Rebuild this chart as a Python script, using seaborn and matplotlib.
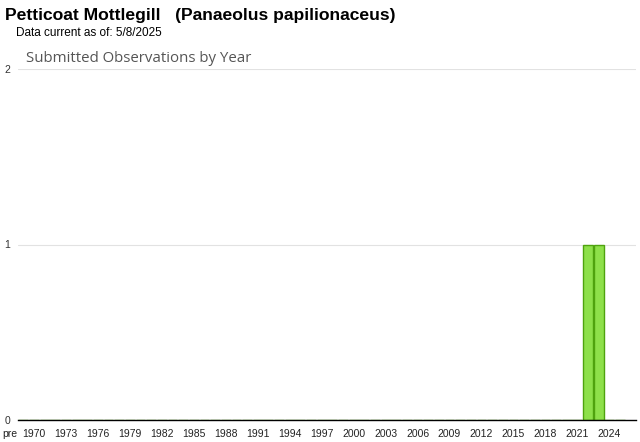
import matplotlib
matplotlib.use("Agg")
import matplotlib.pyplot as plt
import matplotlib.transforms as mtransforms
import seaborn as sns
import pandas as pd

categories = ["pre"] + [str(y) for y in range(1970, 2026)]
observed_years = ["2022", "2023"]
observed_counts = [1, 1]
tick_labels = ["pre"] + [str(y) for y in range(1970, 2026, 3)]

counts = [observed_counts[observed_years.index(c)] if c in observed_years else 0 for c in categories]
df = pd.DataFrame({"year": categories, "count": counts})

sns.set_theme(style="white")
plt.rcParams['font.family'] = ['Liberation Sans', 'DejaVu Sans']

fig = plt.figure(figsize=(6.4, 4.42), dpi=100)
ax = fig.add_axes([18/640, 1 - 420/442, (636 - 18)/640, (420 - 69)/442])

sns.barplot(data=df, x="year", y="count", order=categories, ax=ax,
            color="#8ee04a", edgecolor="#4fa30e", linewidth=1.0, width=0.92,
            saturation=1)

ax.set_xlim(-0.5, len(categories) + 0.5)
ax.set_ylim(0, 2)
ax.set_yticks([0, 1, 2])
ax.set_yticklabels(["0", "1", "2"], fontsize=7.5, color="#333333")
ax.tick_params(axis="y", length=0, pad=5.5)
for y in [1, 2]:
    ax.axhline(y, color="#e2e2e2", linewidth=0.8, zorder=0)

pos = [categories.index(t) for t in tick_labels]
ax.set_xticks(pos)
ax.set_xticklabels(["" if t == "pre" else t for t in tick_labels], fontsize=7.5, color="#222222")
ax.tick_params(axis="x", length=3, width=0.6, color="#cccccc", pad=3.5, direction="out")
trans = mtransforms.blended_transform_factory(fig.transFigure, ax.get_xaxis_transform())
ax.text(9.5/640, 0, tick_labels[0], fontsize=7.5, color="#222222", ha="center", va="top",
        transform=trans + mtransforms.ScaledTranslation(0, -(3 + 3.5) / 72, fig.dpi_scale_trans))

ax.set_xlabel("")
ax.set_ylabel("")
for s in ["top", "right", "left"]:
    ax.spines[s].set_visible(False)
ax.spines["bottom"].set_color("black")
ax.spines["bottom"].set_linewidth(1.0)

fig.text(5/640, 1 - 8/442, "Petticoat Mottlegill   (Panaeolus papilionaceus)",
         fontsize=12.6, fontweight="bold", va="top", ha="left", color="black")
fig.text(16/640, 1 - 27.5/442, "Data current as of: 5/8/2025",
         fontsize=8.5, va="top", ha="left", color="black")
fig.text(26/640, 1 - 51/442, "Submitted Observations by Year",
         fontsize=10.8, va="top", ha="left", color="#555555", family=["Open Sans", "DejaVu Sans"])

fig.savefig("out.png", dpi=100)
